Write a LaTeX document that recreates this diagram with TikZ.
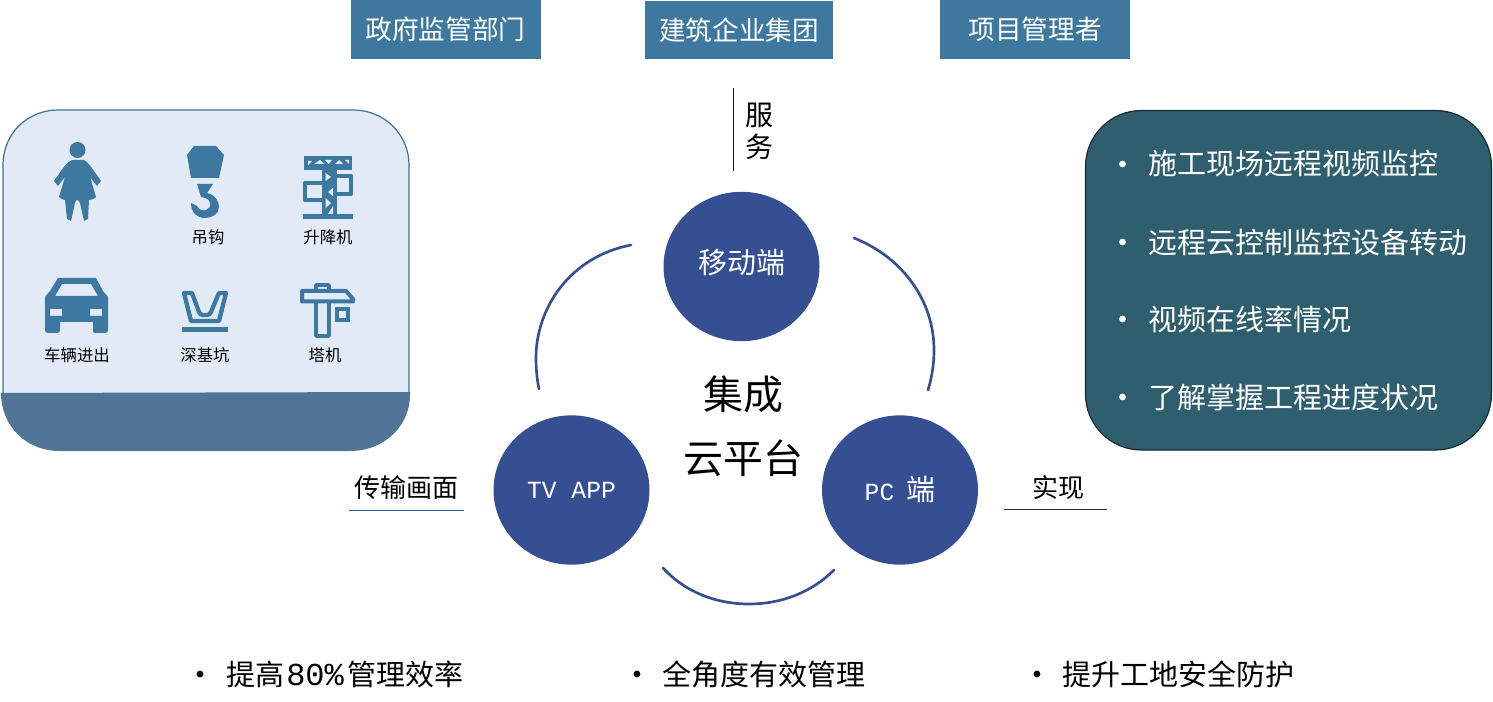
\documentclass[tikz,border=0pt]{standalone}
\usepackage{fontspec}
\usetikzlibrary{shapes.geometric}
\setmainfont{Noto Sans CJK SC}
\setmonofont{Liberation Mono}
\definecolor{topblue}{HTML}{3F789F}
\definecolor{circ}{HTML}{354F92}
\definecolor{teal}{HTML}{2F5F6E}
\definecolor{pale}{HTML}{E2EAF5}
\definecolor{band}{HTML}{507596}
\definecolor{icon}{HTML}{3D78A0}
\tikzset{
 topbox/.style={fill=topblue,text=white,minimum width=142.5pt,minimum height=44.2pt,inner sep=0pt,font=\fontsize{20}{24}\selectfont,anchor=center},
 hub/.style={ellipse,fill=circ,text=white,minimum width=117pt,minimum height=112pt,inner sep=0pt,font=\fontsize{21.75}{26}\selectfont},
 arcline/.style={draw=circ,line width=2pt,line cap=round},
 lbl/.style={font=\fontsize{12.3}{14}\selectfont,text=black,inner sep=0pt},
 bul/.style={text=white,font=\fontsize{21.75}{26}\selectfont,inner sep=0pt,anchor=west},
 btm/.style={font=\fontsize{21.75}{26}\selectfont,inner sep=0pt,anchor=west},
 mid/.style={font=\fontsize{30}{36}\selectfont,inner sep=0pt},
 tag/.style={font=\fontsize{19.5}{24}\selectfont,inner sep=0pt},
}
\begin{document}
\begin{tikzpicture}[x=0.75pt,y=-0.75pt]
\useasboundingbox (0,0) rectangle (1493,702);
% left panel
\fill[pale] (3,393) -- (3,165) .. controls (3,133) and (28,110) .. (58,110) -- (353,110) .. controls (385,110) and (409,135) .. (409,165) -- (409,393) -- cycle;
\fill[band] (1,393) -- (410,392) -- (410,395) .. controls (410,425) and (385,451) .. (350,451) -- (60,451) .. controls (25,451) and (1,425) .. (1,393) -- cycle;
\draw[icon!95!black,line width=0.9pt] (3,393) -- (3,165) .. controls (3,133) and (28,110) .. (58,110) -- (353,110) .. controls (385,110) and (409,135) .. (409,165) -- (409,393);
% person
\fill[icon] (77.5,150) circle (8);
\fill[icon] (72,160) -- (84,160) .. controls (88,162) and (92,168) .. (101,181) -- (97,186) -- (90,177) -- (96,197) .. controls (94,199) and (92,200) .. (89,200) -- (88,219) -- (84,221) -- (80,203) .. controls (78,199) and (76,199) .. (75,203) -- (71,221) -- (67,219) -- (65,200) .. controls (63,200) and (61,199) .. (59,197) -- (65,177) -- (58,186) -- (54,181) .. controls (63,168) and (67,162) .. (72,160) -- cycle;
% hook
\fill[icon] (194,146) -- (216,146) -- (224,155) -- (219,178) -- (191,178) -- (187,155) -- cycle;
\fill[icon] (197,184) -- (213,184) -- (207,193) .. controls (216,195) and (219,202) .. (219,207) .. controls (219,214) and (212,218) .. (205,218) .. controls (197,218) and (191,213) .. (191,203) -- (197,206) .. controls (199,210) and (203,211) .. (206,210) .. controls (212,208) and (212,200) .. (205,198) -- (201,197) -- cycle;
% lift
\fill[icon] (304,156) -- (352,156) -- (352,170) -- (304,170) -- cycle;
\fill[pale] (308,161) -- (312,161) -- (308,165) -- cycle;
\fill[pale] (318,161.5) -- (320,160) -- (324,164) -- (314,164) -- cycle;
\fill[pale] (325,160) -- (332,160) -- (328.5,164) -- cycle;
\fill[pale] (339,160) -- (343,164) -- (335,164) -- cycle;
\fill[pale] (345,160) -- (349,160) -- (349,164) -- cycle;
\fill[icon] (303,214) rectangle (353,219);
\fill[icon] (322,170) rectangle (337,214);
\fill[pale] (325.5,173) -- (331,177) -- (325.5,181) -- cycle;
\fill[pale] (333,188) -- (333,196) -- (328,192) -- cycle;
\fill[pale] (325.5,198) -- (331,203) -- (325.5,208) -- cycle;
\fill[pale] (333,206) -- (333,214) -- (328,214) -- cycle;
\draw[icon,line width=3.2pt,line join=round] (337,176) -- (351,176) -- (351,194) -- (337,194);
\draw[icon,line width=3.2pt,line join=round] (322,183) -- (305,183) -- (305,200) -- (322,200);
% car
\fill[icon,even odd rule] (58,278) -- (96,278) -- (103,291) -- (108,297) -- (108,330) .. controls (108,332) and (107,333) .. (105,333) -- (95,333) .. controls (93,333) and (93,332) .. (93,330) -- (93,322) -- (60,322) -- (60,330) .. controls (60,332) and (59,333) .. (57,333) -- (48,333) .. controls (46,333) and (45,332) .. (45,330) -- (45,297) -- (50,291) -- cycle
 (62,284) -- (55,296) -- (98,296) -- (91,284) -- cycle
 (50,309) rectangle (62,316)
 (90,309) rectangle (102,316);
% pit
\fill[icon] (182,327) rectangle (228,332);
\draw[icon,line width=3.2pt,line join=round] (184,293) -- (192,293) -- (199,312) .. controls (200,314) and (201,315) .. (203,315) -- (207,315) .. controls (209,315) and (210,314) .. (211,312) -- (219,293) -- (226,293) -- (219,321) -- (191,321) -- cycle;
% crane
\draw[icon,line width=2.6pt,line join=round] (316,302) -- (316,336) -- (329,336) -- (329,302);
\draw[icon,line width=2.6pt,line join=round] (316,291) -- (316,285) -- (329,285) -- (329,291);
\draw[icon,line width=3pt,line join=round] (329,301.5) -- (302,301.5) -- (302,291) -- (346,291) -- (353,299) -- (353,301.5) -- cycle;
\draw[icon,line width=3pt] (337,309) rectangle (348,320);
% panel labels
\node[lbl] (l1) at (208,237) {吊钩};
\node[lbl] (l2) at (328,237) {升降机};
\node[lbl] (l3) at (77,355) {车辆进出};
\node[lbl] (l4) at (205,355) {深基坑};
\node[lbl] (l5) at (325,355) {塔机};
% top boxes
\node[topbox] (t1) at (445.5,29.5) {政府监管部门};
\node[topbox,minimum width=141pt,minimum height=43.2pt] (t2) at (739,29.8) {建筑企业集团};
\node[topbox] (t3) at (1035,29.5) {项目管理者};
% service
\coordinate (s1) at (733.5,88);
\coordinate (s2) at (733.5,171);
\draw[black!70!circ,line width=0.7pt] (s1) -- (s2);
\node[inner sep=0pt,align=center,font=\fontsize{21}{26}\selectfont] (fw) at (759,131.5) {服\\[-2pt]务};
% hubs
\node[hub] (m) at (741.5,266.5) {};
\node[text=white,inner sep=0pt,font=\fontsize{21.75}{26}\selectfont] (mt) at (742,263) {移动端};
\node[hub,font=\ttfamily\fontsize{18.5}{22}\selectfont] (tv) at (571.5,490) {TV APP};
\node[hub] (pc) at (900,490) {{\ttfamily\fontsize{18.5}{22}\selectfont PC}\hspace{9pt}端};
\node[mid] (c1) at (743,394) {集成};
\node[mid] (c2) at (743,458) {云平台};
% arcs
\draw[arcline] (631,245) .. controls (569,257) and (536,309) .. (536,358) .. controls (536,369) and (537,379) .. (539,389);
\draw[arcline] (854,238) .. controls (904,258) and (934,302) .. (934,350) .. controls (934,364) and (932,377) .. (928,390);
\draw[arcline] (663,568) .. controls (685,592) and (716,604) .. (749,604) .. controls (782,604) and (812,592) .. (834,570);
% tags
\node[tag] (cs) at (406,487.5) {传输画面};
\coordinate (a1) at (349,510.5);
\coordinate (a2) at (464,510.5);
\draw[circ,line width=0.75pt] (a1) -- (a2);
\node[tag] (sx) at (1058,487.5) {实现};
\coordinate (b1) at (1004,509.5);
\coordinate (b2) at (1107,509.5);
\draw[teal!60!black,line width=0.75pt] (b1) -- (b2);
% right panel
\draw[fill=teal,draw=black!55!teal,line width=0.9pt,rounded corners=42] (1085.5,110.5) rectangle (1491.5,450);
\foreach \y/\t [count=\i] in {164/施工现场远程视频监控,242/远程云控制监控设备转动,319/视频在线率情况,397/了解掌握工程进度状况}{
 \node[bul] (r\i) at (1148,\y) {\t};
 \fill[white] (1122.5,\y) circle (3.4);
}
% bottom
\foreach \x/\t [count=\i] in {226/{提高\hspace{1.5pt}{\ttfamily\fontsize{24}{26}\selectfont 80\%}\hspace{3pt}管理效率},662/全角度有效管理,1062/提升工地安全防护}{
 \node[btm] (b\i) at (\x,674) {\t};
}
\fill (200,674) circle (3.4);
\fill (637,674) circle (3.4);
\fill (1037,674) circle (3.4);
\end{tikzpicture}
\end{document}
